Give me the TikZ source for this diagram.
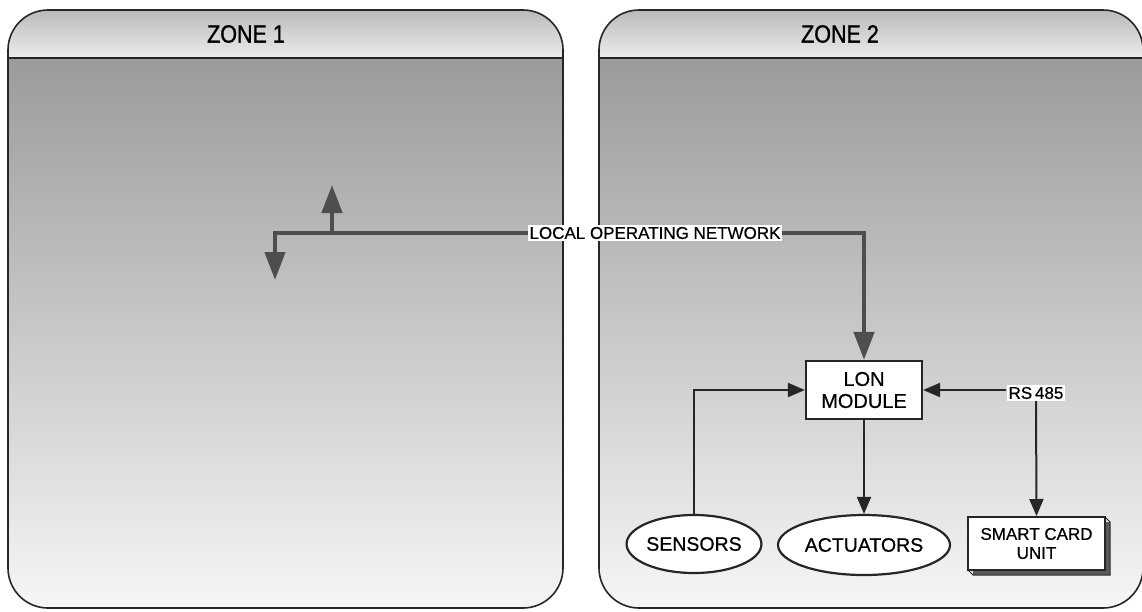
\documentclass[tikz,border=0pt]{standalone}
\usepackage{fontspec}
\setmainfont{Liberation Sans}[FakeBold=0.4]
\newfontfamily\narrowsans[FakeStretch=0.86,FakeBold=1.2]{Liberation Sans}
\newfontfamily\labelsans[FakeBold=0.6]{Liberation Sans}
\usetikzlibrary{arrows.meta,shapes.geometric}
\definecolor{hdrtop}{RGB}{186,186,186}
\definecolor{hdrbot}{RGB}{236,236,236}
\definecolor{bodytop}{RGB}{155,155,155}
\definecolor{bodybot}{RGB}{246,246,246}
\definecolor{netgray}{RGB}{78,78,78}
\tikzset{
  zoneoutline/.style={draw=black!85, line width=1.6pt, rounded corners=40pt},
  zonetitle/.style={font=\narrowsans\fontsize{25}{28}\selectfont, text=black},
  net/.style={draw=netgray, line width=4.5pt},
  netarrow/.style={-{Triangle[length=28pt,width=20pt]}},
  sig/.style={draw=black!85, line width=2pt, -{Triangle[length=17pt,width=14pt]}},
  lonbox/.style={draw=black!85, line width=2.2pt, fill=white, minimum width=116pt, minimum height=58pt, align=center, inner sep=2pt, font=\labelsans\fontsize{20}{22}\selectfont},
  oval/.style={ellipse, draw=black!85, line width=2.2pt, fill=white, font=\labelsans\fontsize{19.5}{22}\selectfont, inner sep=0pt},
  cardbox/.style={draw=black!85, line width=2pt, fill=white, minimum width=137pt, minimum height=53pt, align=center, font=\labelsans\fontsize{17}{19}\selectfont, inner sep=1pt},
  tag/.style={fill=white, inner sep=2pt, font=\labelsans\fontsize{17}{19}\selectfont},
}
\begin{document}
\begin{tikzpicture}[x=1pt,y=-1pt]
\useasboundingbox (0,0) rectangle (1142,611);
\fill[white] (0,0) rectangle (1142,611);
% zone 1
\begin{scope}
  \clip[rounded corners=40pt] (8,10) rectangle (563,608);
  \shade[top color=hdrtop, bottom color=hdrbot] (8,10) rectangle (563,58);
  \shade[top color=bodytop, bottom color=bodybot] (8,58) rectangle (563,608);
\end{scope}
\draw[black!85, line width=1.6pt] (8,58) -- (563,58);
\draw[zoneoutline] (8,10) rectangle (563,608);
\node[zonetitle] (z1) at (246,34) {ZONE 1};
% zone 2
\begin{scope}
  \clip[rounded corners=40pt] (599,10) rectangle (1143,608);
  \shade[top color=hdrtop, bottom color=hdrbot] (599,10) rectangle (1143,58);
  \shade[top color=bodytop, bottom color=bodybot] (599,58) rectangle (1143,608);
\end{scope}
\draw[black!85, line width=1.6pt] (599,58) -- (1143,58);
\draw[zoneoutline] (599,10) rectangle (1143,608);
\node[zonetitle] (z2) at (840,34) {ZONE 2};
% nodes
\node[lonbox] (lon) at (864,390) {LON\\MODULE};
\node[oval, minimum width=134pt, minimum height=58pt] (sens) at (694,544) {SENSORS};
\node[oval, minimum width=172pt, minimum height=60pt] (act) at (864,545) {ACTUATORS};
\fill[black!65] (973,522) rectangle (1110,575);
\draw[black!85, line width=1pt] (1105,517) -- (1110,522) -- (1110,575) -- (973,575) -- (968,570);
\node[cardbox] (card) at (1036.5,543.5) {SMART CARD\\UNIT};
% network
\coordinate (nl) at (275,280);
\coordinate (nlc) at (275,233);
\coordinate (nup) at (332,185);
\coordinate (nbr) at (332,233);
\coordinate (nrc) at (864,233);
\draw[net, netarrow] (nlc) -- (nrc) -- (lon.north);
\draw[net, netarrow] (nrc) -- (nlc) -- (nl);
\draw[net, netarrow] (nbr) -- (nup);
\node[tag] (netlabel) at (655,233) {LOCAL OPERATING NETWORK};
% zone 2 links
\draw[sig] (sens.north) |- (lon.west);
\draw[sig] (lon.south) -- (act.north);
\node[tag] (rs) at (1036,393) {RS\,485};
\draw[sig] (rs.west |- lon.east) -- (lon.east);
\draw[sig] (rs.south) -- (card.north);
\end{tikzpicture}
\end{document}
